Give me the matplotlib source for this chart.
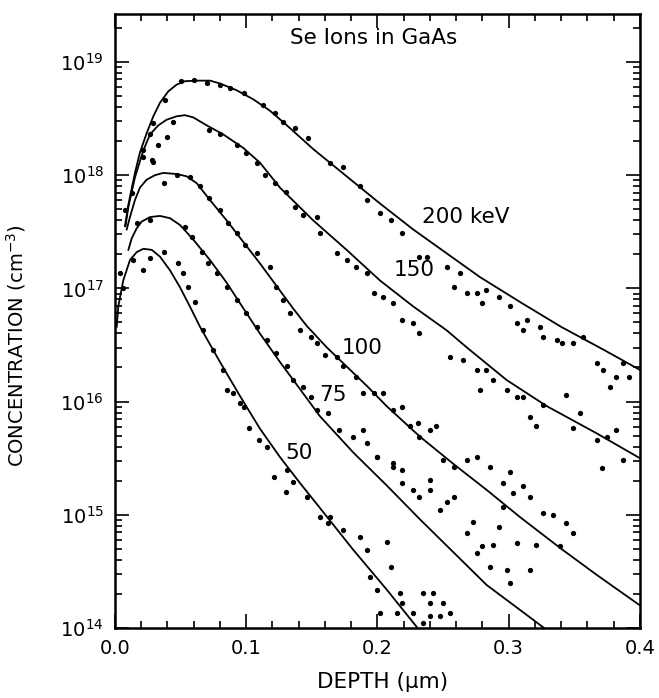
import numpy as np
import matplotlib
matplotlib.use('Agg')
import matplotlib.pyplot as plt
from matplotlib.ticker import MultipleLocator, LogLocator, NullFormatter, FormatStrFormatter

plt.rcParams['font.family'] = ['DejaVu Sans']
plt.rcParams['mathtext.fontset'] = 'dejavusans'

# fitted profiles, depth (um) and log10 concentration (cm^-3)
x50 = [0.0013, 0.0025, 0.0063, 0.0114, 0.0165, 0.0216, 0.028, 0.0343, 0.0419, 0.0495,
       0.0571, 0.0648, 0.080, 0.0952, 0.1105, 0.1257, 0.141, 0.1562, 0.1816, 0.207, 0.2299]
y50 = [16.66, 16.84, 17.07, 17.25, 17.32, 17.35, 17.34, 17.28, 17.16, 17.01,
       16.84, 16.66, 16.35, 16.05, 15.76, 15.51, 15.28, 15.06, 14.69, 14.34, 14.01]

x75 = [0.0102, 0.0127, 0.0165, 0.0203, 0.0267, 0.0343, 0.0419, 0.0495, 0.0597, 0.0724,
       0.0851, 0.0952, 0.1105, 0.1257, 0.141, 0.1562, 0.1816, 0.207, 0.2324, 0.2578,
       0.2832, 0.3086, 0.327]
y75 = [17.34, 17.44, 17.53, 17.59, 17.63, 17.64, 17.62, 17.56, 17.43, 17.25,
       17.05, 16.87, 16.60, 16.35, 16.11, 15.87, 15.55, 15.26, 14.96, 14.67,
       14.38, 14.16, 14.00]

x100 = [0.0089, 0.0114, 0.0152, 0.019, 0.0241, 0.0305, 0.0368, 0.047, 0.0546, 0.0622,
        0.0724, 0.0851, 0.0978, 0.1105, 0.1232, 0.1359, 0.146, 0.1613, 0.1765, 0.1918,
        0.207, 0.2324, 0.2578, 0.2832, 0.3086, 0.340, 0.367, 0.400]
y100 = [17.52, 17.63, 17.78, 17.89, 17.96, 18.00, 18.02, 18.01, 17.99, 17.93,
        17.78, 17.60, 17.41, 17.22, 17.02, 16.82, 16.67, 16.48, 16.31, 16.14,
        15.96, 15.69, 15.45, 15.22, 14.98, 14.70, 14.47, 14.20]

x150 = [0.008, 0.0102, 0.0152, 0.0216, 0.0267, 0.033, 0.0394, 0.047, 0.0533, 0.0597,
        0.0699, 0.0825, 0.0978, 0.1105, 0.1257, 0.1511, 0.1765, 0.2019, 0.2273, 0.2527,
        0.2679, 0.2985, 0.329, 0.367, 0.400]
y150 = [17.55, 17.72, 17.98, 18.22, 18.36, 18.44, 18.49, 18.52, 18.53, 18.51,
        18.44, 18.36, 18.24, 18.11, 17.89, 17.60, 17.34, 17.07, 16.84, 16.63,
        16.48, 16.19, 15.96, 15.72, 15.50]

x200 = [0.0076, 0.0102, 0.0152, 0.019, 0.0241, 0.0292, 0.0343, 0.0406, 0.047, 0.0533,
        0.0622, 0.0724, 0.080, 0.0927, 0.1054, 0.118, 0.131, 0.1511, 0.1765, 0.2019,
        0.2273, 0.2527, 0.2781, 0.3086, 0.340, 0.372, 0.400]
y200 = [17.55, 17.74, 18.02, 18.20, 18.37, 18.52, 18.64, 18.74, 18.80, 18.83,
        18.835, 18.835, 18.81, 18.75, 18.67, 18.57, 18.44, 18.23, 17.99, 17.75,
        17.52, 17.31, 17.10, 16.88, 16.66, 16.46, 16.28]

# measured points
d200 = [0.008, 0.013, 0.021, 0.027, 0.028, 0.029, 0.038, 0.050, 0.060, 0.070, 0.080, 0.088,
        0.098, 0.113, 0.122, 0.128, 0.137, 0.147, 0.164, 0.174, 0.187, 0.192, 0.202, 0.210,
        0.219, 0.232, 0.238, 0.253, 0.263, 0.258, 0.268, 0.276, 0.283, 0.280, 0.293, 0.301,
        0.306, 0.314, 0.311, 0.324, 0.326, 0.337, 0.341, 0.349, 0.357, 0.367, 0.372, 0.382,
        0.377, 0.392, 0.387, 0.344, 0.354, 0.349]
c200 = [17.69, 17.84, 18.22, 18.36, 18.13, 18.46, 18.66, 18.83, 18.84, 18.81, 18.80, 18.77,
        18.73, 18.62, 18.55, 18.47, 18.42, 18.33, 18.11, 18.07, 17.90, 17.78, 17.67, 17.60,
        17.49, 17.28, 17.28, 17.19, 17.14, 17.01, 16.96, 16.96, 16.99, 16.87, 16.92, 16.84,
        16.69, 16.72, 16.63, 16.66, 16.57, 16.54, 16.52, 16.52, 16.57, 16.34, 16.28, 16.22,
        16.13, 16.22, 16.34, 16.06, 15.90, 15.77]

d150 = [0.021, 0.029, 0.033, 0.040, 0.044, 0.072, 0.080, 0.093, 0.100, 0.108, 0.114, 0.122,
        0.130, 0.137, 0.143, 0.154, 0.156, 0.169, 0.177, 0.184, 0.192, 0.197, 0.204, 0.212,
        0.219, 0.227, 0.232, 0.255, 0.265, 0.276, 0.283, 0.288, 0.278, 0.299, 0.306, 0.311,
        0.316, 0.321, 0.326, 0.367, 0.375, 0.382, 0.371, 0.387]
c150 = [18.16, 18.12, 18.27, 18.34, 18.47, 18.40, 18.36, 18.27, 18.20, 18.11, 18.00, 17.93,
        17.85, 17.72, 17.65, 17.63, 17.49, 17.31, 17.25, 17.19, 17.14, 16.96, 16.92, 16.87,
        16.72, 16.69, 16.61, 16.39, 16.37, 16.28, 16.28, 16.19, 16.10, 16.10, 16.04, 16.04,
        15.86, 15.78, 15.97, 15.66, 15.69, 15.75, 15.41, 15.48]

d100 = [0.037, 0.047, 0.057, 0.065, 0.072, 0.080, 0.086, 0.093, 0.099, 0.108, 0.118, 0.123,
        0.128, 0.133, 0.141, 0.149, 0.154, 0.160, 0.169, 0.174, 0.184, 0.189, 0.197, 0.204,
        0.212, 0.219, 0.225, 0.232, 0.240, 0.245, 0.231, 0.250, 0.258, 0.268, 0.276, 0.286,
        0.296, 0.301, 0.311, 0.316, 0.303, 0.296, 0.326, 0.334, 0.344, 0.349, 0.339]
c100 = [17.93, 18.00, 17.98, 17.90, 17.80, 17.69, 17.58, 17.49, 17.38, 17.31, 17.19, 17.01,
        16.90, 16.78, 16.63, 16.57, 16.52, 16.41, 16.39, 16.31, 16.22, 16.08, 16.08, 16.08,
        15.93, 15.95, 15.78, 15.69, 15.75, 15.78, 15.81, 15.48, 15.42, 15.48, 15.51, 15.42,
        15.28, 15.38, 15.25, 15.16, 15.19, 15.07, 15.02, 15.00, 14.93, 14.84, 14.72]

d75 = [0.017, 0.027, 0.053, 0.059, 0.066, 0.071, 0.078, 0.085, 0.093, 0.100, 0.108, 0.116,
       0.123, 0.131, 0.136, 0.143, 0.149, 0.154, 0.162, 0.171, 0.181, 0.192, 0.200, 0.212,
       0.219, 0.227, 0.240, 0.189, 0.200, 0.212, 0.219, 0.232, 0.240, 0.248, 0.253, 0.258,
       0.268, 0.273, 0.276, 0.280, 0.288, 0.293, 0.286, 0.299, 0.301, 0.306, 0.316, 0.321]
c75 = [17.58, 17.60, 17.54, 17.45, 17.32, 17.22, 17.14, 17.01, 16.90, 16.78, 16.66, 16.54,
       16.43, 16.31, 16.19, 16.13, 16.04, 15.93, 15.90, 15.75, 15.69, 15.63, 15.51, 15.46,
       15.40, 15.22, 15.31, 15.75, 15.51, 15.42, 15.28, 15.16, 15.22, 15.04, 15.11, 15.16,
       14.84, 14.94, 14.66, 14.72, 14.73, 14.89, 14.54, 14.51, 14.40, 14.75, 14.51, 14.73]

d50 = [0.004, 0.006, 0.014, 0.021, 0.027, 0.037, 0.048, 0.052, 0.056, 0.061, 0.067, 0.075,
       0.082, 0.085, 0.090, 0.095, 0.098, 0.102, 0.110, 0.116, 0.121, 0.130, 0.131, 0.136,
       0.146, 0.156, 0.162, 0.164, 0.174, 0.187, 0.192, 0.207, 0.210, 0.194, 0.200, 0.217,
       0.219, 0.227, 0.235, 0.240, 0.242, 0.250, 0.240, 0.248, 0.255, 0.202, 0.215, 0.235]
c50 = [17.14, 17.00, 17.25, 17.16, 17.27, 17.32, 17.22, 17.14, 17.01, 16.88, 16.63, 16.46,
       16.28, 16.10, 16.08, 15.99, 15.95, 15.77, 15.66, 15.60, 15.33, 15.20, 15.40, 15.29,
       15.16, 14.98, 14.93, 14.98, 14.87, 14.80, 14.69, 14.76, 14.54, 14.45, 14.34, 14.31,
       14.22, 14.13, 14.31, 14.22, 14.31, 14.22, 14.11, 14.11, 14.13, 14.13, 14.13, 14.04]

curves = [(x50, y50), (x75, y75), (x100, y100), (x150, y150), (x200, y200)]
points = [(d50, c50), (d75, c75), (d100, c100), (d150, c150), (d200, c200)]

# energy labels: text, depth, log10 conc
labels = [('200 keV', 0.234, 17.63), ('150', 0.212, 17.16), ('100', 0.173, 16.47),
          ('75', 0.156, 16.06), ('50', 0.130, 15.55)]

fig = plt.figure(figsize=(6.59, 6.98), dpi=100)
ax = fig.add_axes([0.1745, 0.1003, 0.7965, 0.8797])

for xs, ys in curves:
    ax.plot(xs, 10 ** np.array(ys), color='black', lw=1.3)
for ds, cs in points:
    ax.plot(ds, 10 ** np.array(cs), 'o', color='black', ms=3.8, mec='none')

for txt, lx, ly in labels:
    ax.text(lx, 10 ** ly, txt, fontsize=15.5, va='center', ha='left')
ax.text(0.197, 10 ** 19.21, 'Se Ions in GaAs', fontsize=15.5, ha='center', va='center')

ax.set_yscale('log')
ax.set_xlim(0.0, 0.4)
ax.set_ylim(1e14, 10 ** 19.424)

ax.xaxis.set_major_locator(MultipleLocator(0.1))
ax.xaxis.set_minor_locator(MultipleLocator(0.02))
ax.xaxis.set_major_formatter(FormatStrFormatter('%.1f'))
ax.yaxis.set_major_locator(LogLocator(base=10, numticks=10))
ax.yaxis.set_minor_locator(LogLocator(base=10, subs=np.arange(2, 10), numticks=20))
ax.yaxis.set_minor_formatter(NullFormatter())

ax.tick_params(which='both', direction='in', top=True, right=True, labelsize=14, width=1.2)
ax.tick_params(which='major', length=10, pad=8)
ax.tick_params(which='minor', length=5)
for s in ax.spines.values():
    s.set_linewidth(1.8)

ax.set_xlabel('DEPTH (\u00b5m)', fontsize=15.5)
ax.xaxis.set_label_coords(0.51, -0.072)
ax.set_ylabel('CONCENTRATION (cm$^{-3}$)', fontsize=14)
ax.yaxis.set_label_coords(-0.165, 0.46)

fig.savefig('out.png', dpi=100)
